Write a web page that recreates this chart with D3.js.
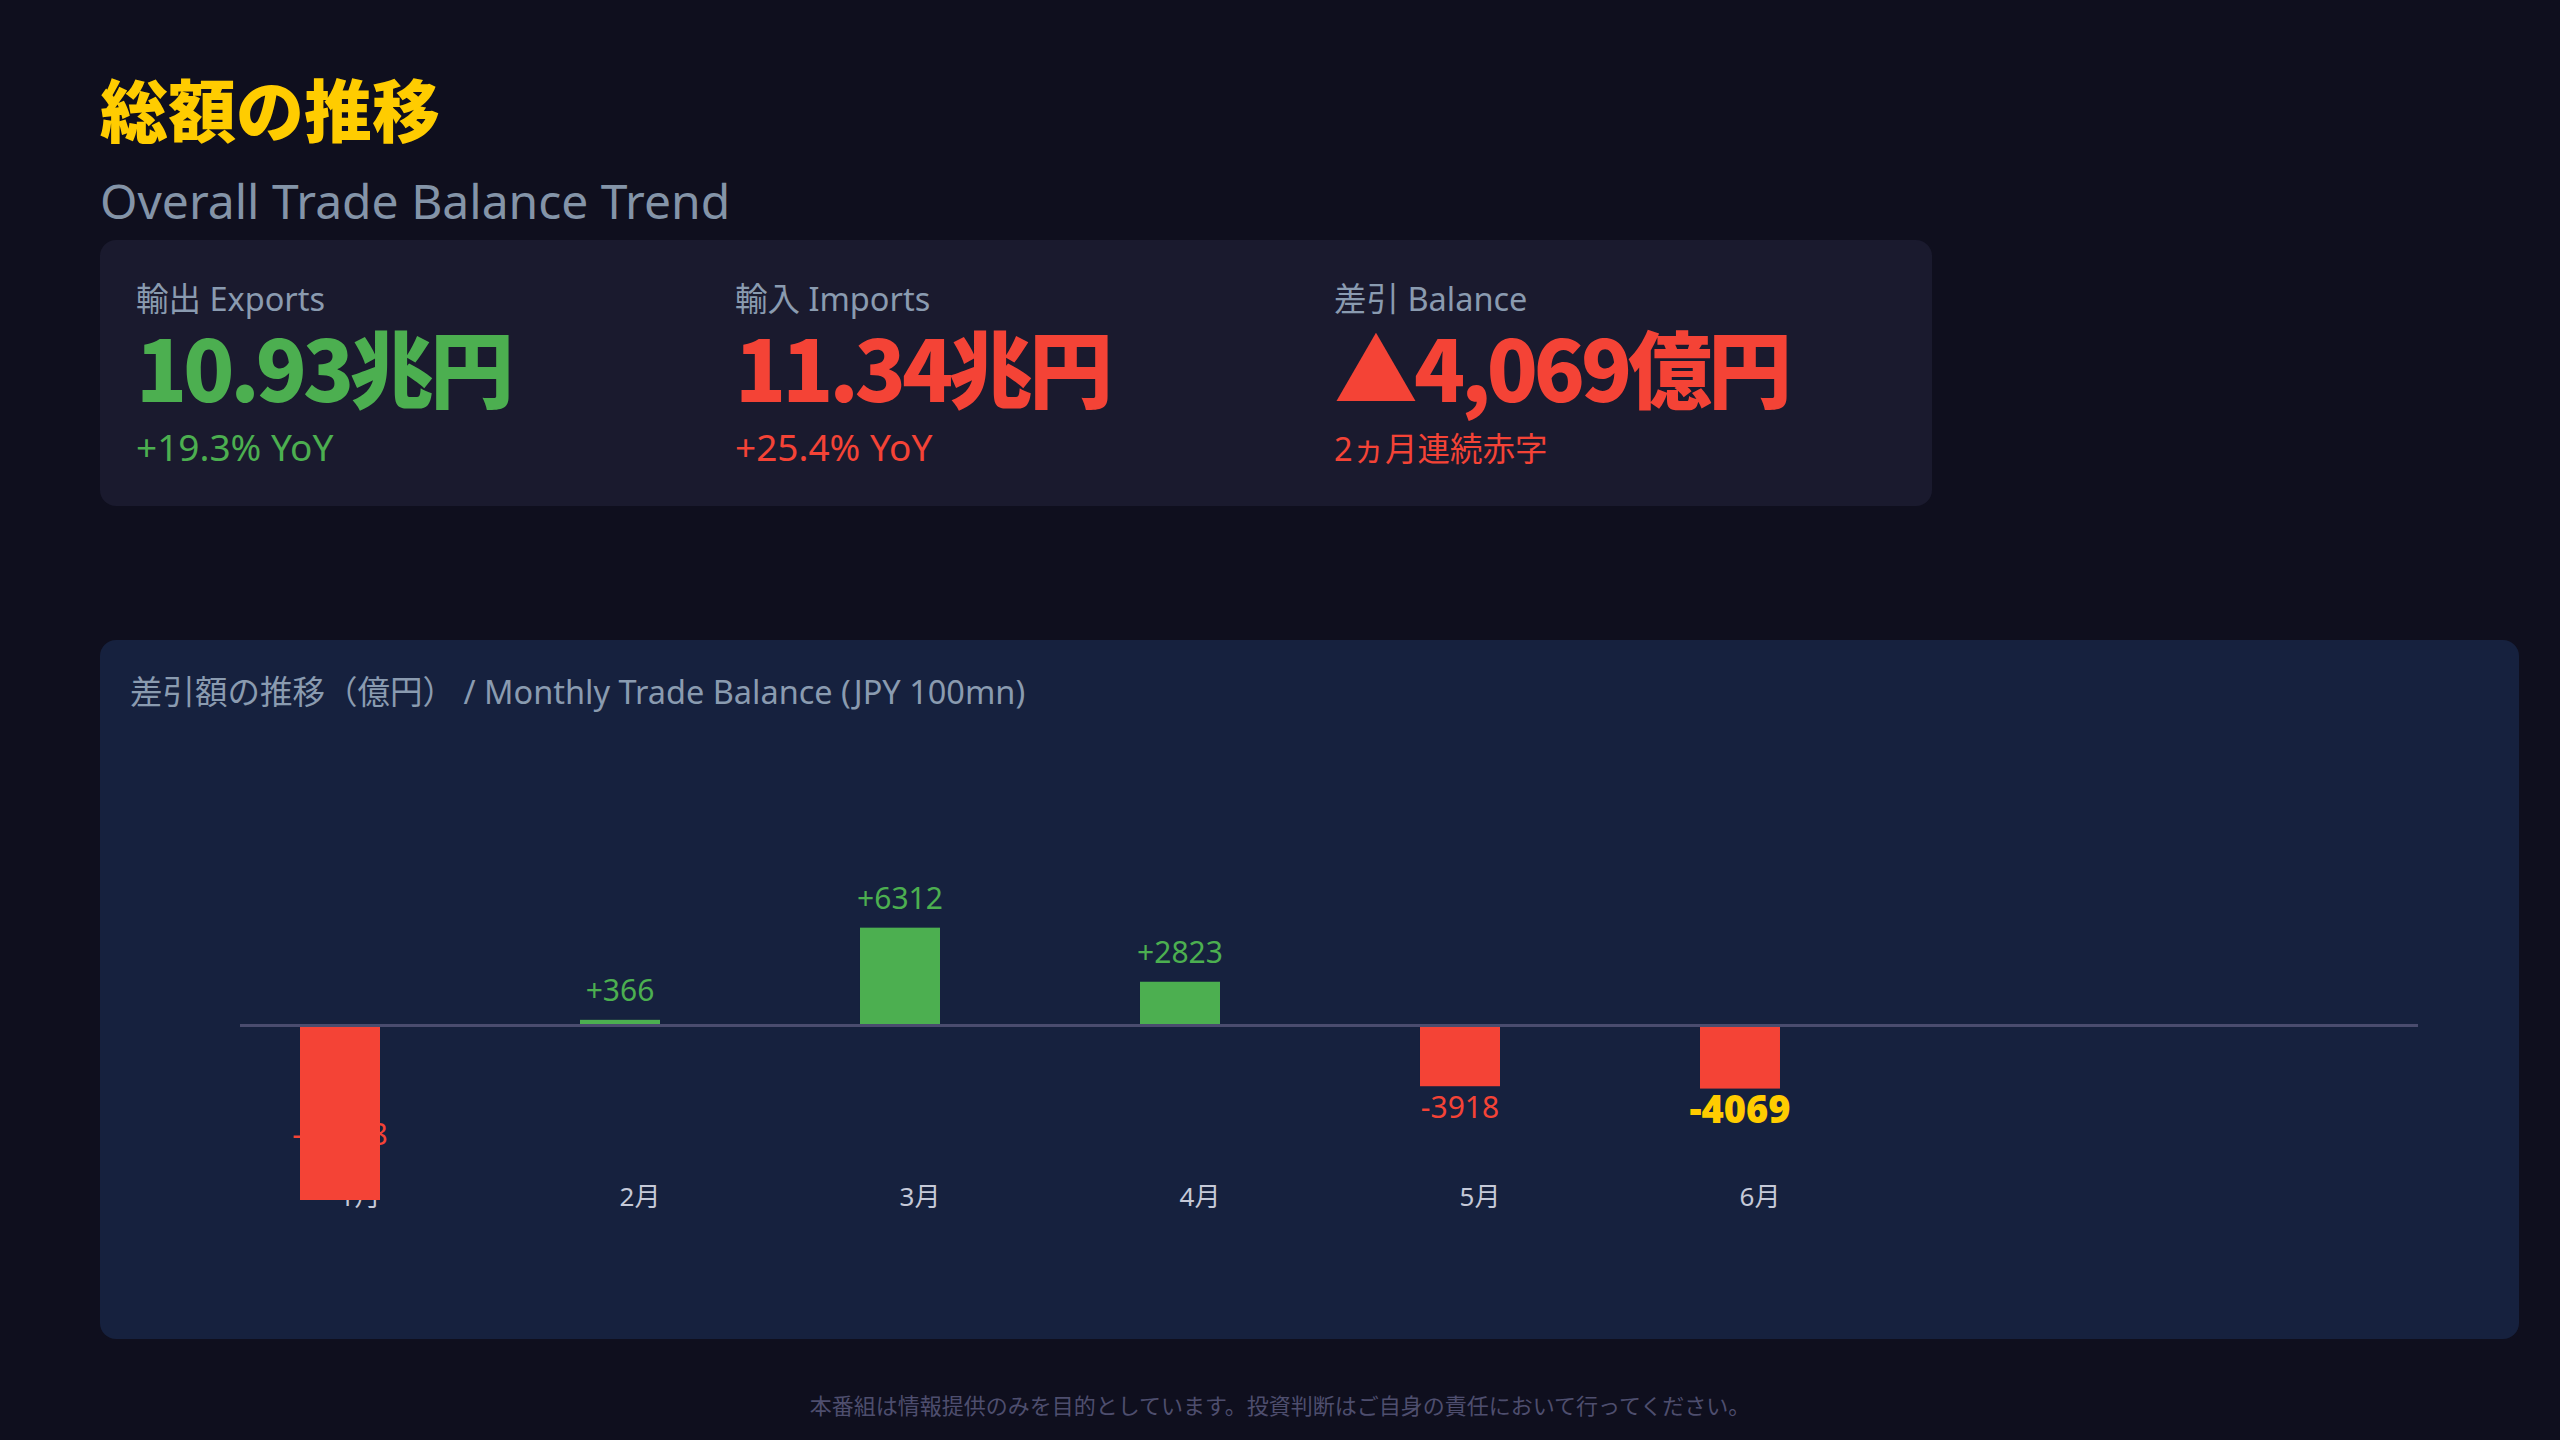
<!DOCTYPE html>
<html>
<head>
<meta charset="utf-8">
<script src="https://cdn.jsdelivr.net/npm/d3@7"></script>
<style>
  html, body { margin: 0; padding: 0; background: #0f0f1e; }
  svg { display: block; }
</style>
</head>
<body>
<svg id="chart"></svg>
<script>
// data
const months = ['1月', '2月', '3月', '4月', '5月', '6月'];
const balance = [-11258, 366, 6312, 2823, -3918, -4069];
const kpiLabels = ['輸出 Exports', '輸入 Imports', '差引 Balance'];
const kpiValues = ['10.93兆円', '11.34兆円', '▲4,069億円'];
const kpiNotes = ['+19.3% YoY', '+25.4% YoY', '2ヵ月連続赤字'];
const kpiColors = ['#4caf50', '#f44336', '#f44336'];

const W = 2560, H = 1440;
const FONT = '"Noto Sans", "Noto Sans CJK JP", sans-serif';
const CJK = '"Noto Sans CJK JP", sans-serif';
const GREEN = '#4caf50', RED = '#f44336', YELLOW = '#ffcc00';
const isCJK = s => /^[^A-Za-z]*[\u3040-\u9fff]/.test(s) && !/[A-Za-z]/.test(s);

const svg = d3.select('#chart')
  .attr('width', W)
  .attr('height', H)
  .style('font-family', FONT);

svg.append('rect').attr('width', W).attr('height', H).attr('fill', '#0f0f1e');

// header
svg.append('text')
  .attr('x', 100).attr('y', 137)
  .attr('font-family', CJK)
  .attr('font-size', 68).attr('font-weight', 900)
  .attr('fill', YELLOW)
  .text('総額の推移');
svg.append('text')
  .attr('x', 100).attr('y', 219)
  .attr('font-size', 48)
  .attr('fill', '#8494a8')
  .text('Overall Trade Balance Trend');

// KPI card
svg.append('rect')
  .attr('x', 100).attr('y', 240)
  .attr('width', 1832).attr('height', 266)
  .attr('rx', 16)
  .attr('fill', '#1a1a2e');

const kpiX = d3.scaleBand().domain(d3.range(3)).range([136, 136 + 3 * 599]);

const kpi = svg.selectAll('.kpi')
  .data(kpiLabels)
  .enter()
  .append('g')
  .attr('class', 'kpi')
  .attr('transform', (d, i) => `translate(${kpiX(i)},0)`);

kpi.append('text')
  .attr('y', 311)
  .attr('font-size', 32.5)
  .attr('fill', '#8a9bb0')
  .text(d => d);
kpi.append('text')
  .attr('y', 402)
  .attr('font-family', CJK)
  .attr('font-size', 84).attr('font-weight', 900)
  .attr('letter-spacing', -4)
  .attr('fill', (d, i) => kpiColors[i])
  .text((d, i) => kpiValues[i]);
kpi.append('text')
  .attr('y', 461)
  .attr('font-size', (d, i) => (isCJK(kpiNotes[i]) ? 32.5 : 37))
  .attr('fill', (d, i) => kpiColors[i])
  .text((d, i) => kpiNotes[i]);

// chart card
svg.append('rect')
  .attr('x', 100).attr('y', 640)
  .attr('width', 2419).attr('height', 699)
  .attr('rx', 16)
  .attr('fill', '#16213e');
svg.append('text')
  .attr('x', 130).attr('y', 704)
  .attr('font-size', 32.5)
  .attr('fill', '#8a9bb0')
  .text('差引額の推移（億円） / Monthly Trade Balance (JPY 100mn)');

// scales
const x = d3.scaleBand()
  .domain(months)
  .range([300, 1820])
  .paddingInner(0.5714)
  .paddingOuter(0);

const y = d3.scaleLinear()
  .domain([-8000, 8000])
  .range([1149.5, 901.5]);

const barW = 80;
const g = svg.append('g');

// x axis (under bars)
const axis = g.append('g')
  .attr('transform', `translate(0,${y(-8000)})`)
  .call(d3.axisBottom(x).tickSize(0).tickPadding(38));
axis.select('.domain').remove();
axis.selectAll('text')
  .attr('font-family', FONT)
  .attr('font-size', 26)
  .attr('fill', '#c5c9d8');

// value labels
const last = balance.length - 1;
g.selectAll('.val')
  .data(balance)
  .enter()
  .append('text')
  .attr('class', 'val')
  .attr('x', (d, i) => x(months[i]) + barW / 2)
  .attr('y', (d, i) => (d >= 0 ? y(d) - 19 : Math.min(y(d) + (i === last ? 34 : 32), y(-8000) - 5)))
  .attr('text-anchor', 'middle')
  .attr('font-size', (d, i) => (i === last ? 38 : 30))
  .attr('font-weight', (d, i) => (i === last ? 900 : 400))
  .attr('fill', (d, i) => (i === last ? YELLOW : d >= 0 ? GREEN : RED))
  .text(d => (d > 0 ? '+' + d : '' + d));

g.selectAll('.bar')
  .data(balance)
  .enter()
  .append('rect')
  .attr('class', 'bar')
  .attr('x', (d, i) => x(months[i]))
  .attr('y', d => y(Math.max(0, d)))
  .attr('width', barW)
  .attr('height', d => Math.abs(y(d) - y(0)))
  .attr('fill', d => (d >= 0 ? GREEN : RED));

// zero line
g.append('line')
  .attr('x1', 240).attr('x2', 2418)
  .attr('y1', y(0)).attr('y2', y(0))
  .attr('stroke', '#4a4c6e')
  .attr('stroke-width', 3);

// footer
svg.append('text')
  .attr('x', 1280).attr('y', 1414)
  .attr('text-anchor', 'middle')
  .attr('font-family', CJK)
  .attr('font-size', 22)
  .attr('fill', '#4e4e6e')
  .text('本番組は情報提供のみを目的としています。投資判断はご自身の責任において行ってください。');
</script>
</body>
</html>
